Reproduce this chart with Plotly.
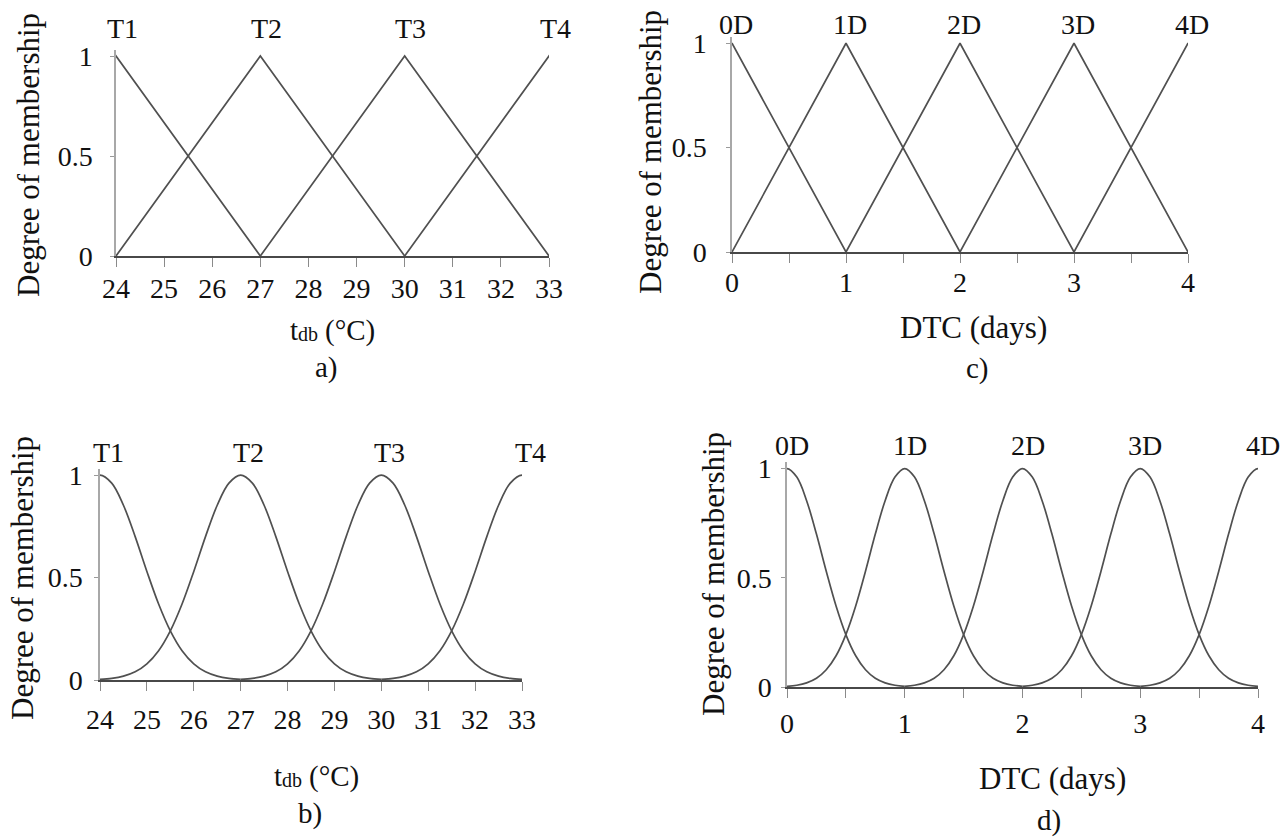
import plotly.graph_objects as go

W, H = 1287, 839
FONT = "Liberation Serif, Times New Roman, serif"

# ---------------- data ----------------
temp_centers = [24, 27, 30, 33]
temp_labels = ["T1", "T2", "T3", "T4"]
temp_spacing = 3
temp_ticks = [24, 25, 26, 27, 28, 29, 30, 31, 32, 33]

dtc_centers = [0, 1, 2, 3, 4]
dtc_labels = ["0D", "1D", "2D", "3D", "4D"]
dtc_spacing = 1
dtc_ticks = [0, 1, 2, 3, 4]
dtc_minor_step = 0.5

membership_ticks = [0, 0.5, 1]
membership_tick_text = ["0", "0.5", "1"]

# triangular membership: offsets in units of the centre spacing
tri_offsets = [-1, 0, 1]
tri_membership = [0, 1, 0]

# bell-shaped membership read from panels b) and d), offsets in units of spacing
bell_offsets = [-12/12, -11/12, -10/12, -9/12, -8/12, -7/12, -6/12, -5/12, -4/12, -3/12, -2/12, -1/12,
                0, 1/12, 2/12, 3/12, 4/12, 5/12, 6/12, 7/12, 8/12, 9/12, 10/12, 11/12, 12/12]
bell_membership = [0.003, 0.008, 0.019, 0.040, 0.079, 0.143, 0.240, 0.371, 0.530, 0.700, 0.853, 0.961,
                   1.0, 0.961, 0.853, 0.700, 0.530, 0.371, 0.240, 0.143, 0.079, 0.040, 0.019, 0.008, 0.003]

# ---------------- layout helpers ----------------
def dom_x(x0, x1):
    return [x0 / W, x1 / W]

def dom_y(top, bottom):
    return [1 - bottom / H, 1 - top / H]

def px(x, y):
    return x / W, 1 - y / H

# pixel boxes of the four plot areas: (left, right, top, bottom)
panels = {
    "a": dict(box=(116, 549, 50, 256), xs="x", ys="y", centers=temp_centers, labels=temp_labels,
              spacing=temp_spacing, offsets=tri_offsets, memb=tri_membership, shape="linear",
              label_y=29, label_shift=6, xtitle="temp", xtitle_pos=(332, 330),
              ytitle_pos=(29, 155), letter="a)", letter_pos=(326, 367),
              xstand=-3, ystand=12),
    "c": dict(box=(732, 1188, 37, 252), xs="x2", ys="y2", centers=dtc_centers, labels=dtc_labels,
              spacing=dtc_spacing, offsets=tri_offsets, memb=tri_membership, shape="linear",
              label_y=25, label_shift=4, xtitle="DTC (days)", xtitle_pos=(974, 328),
              ytitle_pos=(651, 152), letter="c)", letter_pos=(977, 368),
              xstand=-5, ystand=14),
    "b": dict(box=(100, 522, 469, 680), xs="x3", ys="y3", centers=temp_centers, labels=temp_labels,
              spacing=temp_spacing, offsets=bell_offsets, memb=bell_membership, shape="spline",
              label_y=452, label_shift=8, xtitle="temp", xtitle_pos=(316, 776),
              ytitle_pos=(22, 578), letter="b)", letter_pos=(310, 813),
              xstand=4, ystand=6),
    "d": dict(box=(787, 1258, 462, 687), xs="x4", ys="y4", centers=dtc_centers, labels=dtc_labels,
              spacing=dtc_spacing, offsets=bell_offsets, memb=bell_membership, shape="spline",
              label_y=445, label_shift=5, xtitle="DTC (days)", xtitle_pos=(1052, 778),
              ytitle_pos=(713, 574), letter="d)", letter_pos=(1049, 820),
              xstand=1, ystand=4),
}

fig = go.Figure()
annotations = []

def text_ann(text, xpx, ypx, size, xanchor="center", angle=0):
    x, y = px(xpx, ypx)
    return dict(text=text, x=x, y=y, xref="paper", yref="paper", showarrow=False,
                xanchor=xanchor, yanchor="middle", textangle=angle,
                font=dict(family=FONT, size=size, color="#111"))

for key, p in panels.items():
    for c in p["centers"]:
        xs = [c + o * p["spacing"] for o in p["offsets"]]
        fig.add_trace(go.Scatter(
            x=xs, y=p["memb"], mode="lines", xaxis=p["xs"], yaxis=p["ys"],
            line=dict(color="#505050", width=1.7, shape=p["shape"], smoothing=1.0),
            showlegend=False, hoverinfo="skip"))
    # peak labels
    for c, lab in zip(p["centers"], p["labels"]):
        annotations.append(dict(
            text=lab, x=c, xref=p["xs"], y=1 - p["label_y"] / H, yref="paper",
            xshift=p["label_shift"], showarrow=False, xanchor="center", yanchor="middle",
            font=dict(family=FONT, size=28, color="#111")))
    # x-axis title
    xt, yt = p["xtitle_pos"]
    if p["xtitle"] == "temp":
        x0 = xt - 44
        annotations.append(text_ann("t", x0, yt, 29, xanchor="left"))
        annotations.append(text_ann("db", x0 + 8, yt + 4, 20, xanchor="left"))
        annotations.append(text_ann("(°C)", x0 + 35, yt, 29, xanchor="left"))
    else:
        annotations.append(text_ann(p["xtitle"], xt, yt, 31))
    # y-axis title
    annotations.append(text_ann("Degree of membership", p["ytitle_pos"][0], p["ytitle_pos"][1], 31, angle=-90))
    # panel letter
    annotations.append(text_ann(p["letter"], p["letter_pos"][0], p["letter_pos"][1], 29))

tickfont = dict(family=FONT, size=28, color="#111")

def xaxis_cfg(p, ticks, rng, minor=None):
    l, r, t, b = p["box"]
    cfg = dict(domain=dom_x(l, r), anchor=p["ys"],
               range=rng, tickvals=ticks, ticks="outside", ticklen=9, tickcolor="#8a8a8a",
               tickwidth=1.2, showline=True, linecolor="#484848", linewidth=2.4,
               showgrid=False, zeroline=False, tickfont=tickfont, ticklabelstandoff=p["xstand"],
               automargin=False, fixedrange=True)
    if minor:
        cfg["minor"] = minor
    return cfg

def yaxis_cfg(p):
    l, r, t, b = p["box"]
    return dict(domain=dom_y(t, b), anchor=p["xs"], range=[0, 1.03],
                tickvals=membership_ticks, ticktext=membership_tick_text,
                ticks="outside", ticklen=4, tickcolor="#9a9a9a", tickwidth=1.2,
                showline=True, linecolor="#a8a8a8", linewidth=1.5,
                showgrid=False, zeroline=False, tickfont=tickfont,
                ticklabelstandoff=p["ystand"], automargin=False, fixedrange=True)

minor_dtc = dict(ticks="outside", ticklen=9, tickcolor="#8a8a8a", tickwidth=1.2,
                 dtick=dtc_minor_step, showgrid=False)

fig.update_layout(
    template="none",
    width=W, height=H, margin=dict(l=0, r=0, t=0, b=0, pad=0),
    paper_bgcolor="white", plot_bgcolor="white",
    xaxis=xaxis_cfg(panels["a"], temp_ticks, [24, 33]),
    yaxis=yaxis_cfg(panels["a"]),
    xaxis2=xaxis_cfg(panels["c"], dtc_ticks, [0, 4], minor_dtc),
    yaxis2=yaxis_cfg(panels["c"]),
    xaxis3=xaxis_cfg(panels["b"], temp_ticks, [24, 33]),
    yaxis3=yaxis_cfg(panels["b"]),
    xaxis4=xaxis_cfg(panels["d"], dtc_ticks, [0, 4], minor_dtc),
    yaxis4=yaxis_cfg(panels["d"]),
    annotations=annotations,
)

fig.write_html("out.html")
